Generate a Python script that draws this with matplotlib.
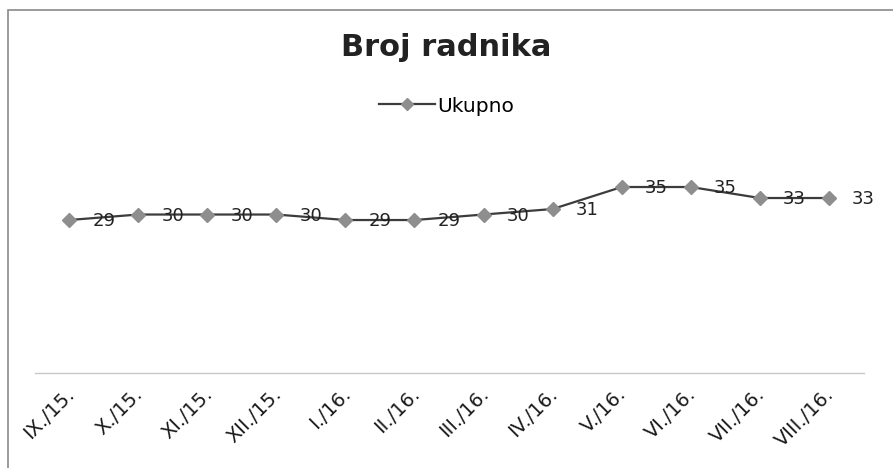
import matplotlib.pyplot as plt
import matplotlib.patches as patches
import matplotlib.transforms as mtransforms

months = ["IX./15.", "X./15.", "XI./15.", "XII./15.", "I./16.", "II./16.",
          "III./16.", "IV./16.", "V./16.", "VI./16.", "VII./16.", "VIII./16."]
workers = [29, 30, 30, 30, 29, 29, 30, 31, 35, 35, 33, 33]

fig = plt.figure(figsize=(8.93, 4.68), dpi=100)

# chart border (scan shows only top and left edge)
fig.patches.append(patches.Rectangle((8 / 893, -0.05), 1.1, 1 - 10 / 468 + 0.05,
                                     transform=fig.transFigure, fill=False,
                                     edgecolor="#8a8a8a", linewidth=1.2))

ax = fig.add_axes([34.5 / 893, 1 - 373 / 468, (863.5 - 34.5) / 893, (373 - 159.5) / 468])
x = list(range(len(months)))
ax.plot(x, workers, color="#3c3c3c", linewidth=1.6, marker="D", markersize=7.5,
        markerfacecolor="#8e8e8e", markeredgecolor="#8e8e8e", label="Ukupno", zorder=3)

for xi, v in zip(x, workers):
    ax.annotate(str(v), (xi, v), xytext=(25, -1), textcoords="offset points",
                ha="center", va="center", fontsize=13, color="#222222",
                family="DejaVu Sans", zorder=4)

ax.set_xlim(-0.5, len(months) - 0.5)
ax.set_ylim(1.2, 40)
ax.set_yticks([])
for s in ["top", "right", "left"]:
    ax.spines[s].set_visible(False)
ax.spines["bottom"].set_color("#c8c8c8")
ax.spines["bottom"].set_linewidth(1.0)
ax.set_xticks(x)
ax.set_xticklabels(months, rotation=45, ha="right", va="center",
                   rotation_mode="anchor", fontsize=14, family="DejaVu Sans",
                   color="#1a1a1a")
ax.tick_params(axis="x", length=0, pad=13)
shift = mtransforms.ScaledTranslation(2 / 100, 0, fig.dpi_scale_trans)
for lbl in ax.get_xticklabels():
    lbl.set_transform(lbl.get_transform() + shift)

fig.text(0.5, 1 - 48 / 468, "Broj radnika", ha="center", va="center",
         fontsize=22, fontweight="bold", family="DejaVu Sans", color="#222222")
fig.legend(loc="center", bbox_to_anchor=(0.5, 1 - 106 / 468), frameon=False,
           prop={"family": "DejaVu Sans", "size": 14.5}, handlelength=2.8,
           handletextpad=0.1, markerscale=0.8)

fig.savefig("out.png", dpi=100)
